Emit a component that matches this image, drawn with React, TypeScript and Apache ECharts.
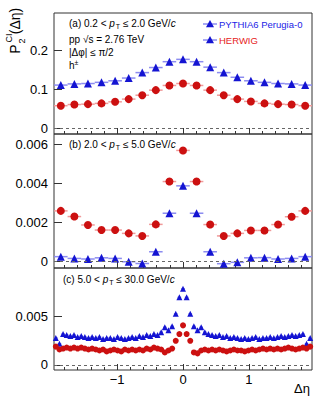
import React, { useEffect, useRef } from 'react';
import * as echarts from 'echarts';

const X_MIN = -1.96;
const X_MAX = 1.96;

// Panel (a) 0.2 < pT <= 2.0 GeV/c, 19 bins
const pythiaA = [0.111, 0.114, 0.115, 0.118, 0.122, 0.129, 0.143, 0.156, 0.171, 0.177, 0.171, 0.157, 0.143, 0.131, 0.122, 0.118, 0.115, 0.114, 0.111];
const herwigA = [0.058, 0.061, 0.062, 0.064, 0.068, 0.075, 0.085, 0.098, 0.110, 0.115, 0.110, 0.098, 0.085, 0.075, 0.069, 0.064, 0.062, 0.061, 0.058];

// Panel (b) 2.0 < pT <= 5.0 GeV/c, 19 bins
const pythiaB = [0.00026, 0.00017, 0.00014, 0.0002, 0.00017, 0.0, -0.00009, 0.00051, 0.00248, 0.00388, 0.00248, 0.00051, -0.0001, -0.00003, 0.0002, 0.00021, 0.00014, 0.00017, 0.00026];
const herwigB = [0.0026, 0.00231, 0.00188, 0.00162, 0.00162, 0.00145, 0.00132, 0.00191, 0.0041, 0.00569, 0.0041, 0.0019, 0.00132, 0.00145, 0.0016, 0.0016, 0.0019, 0.0023, 0.0026];

// Panel (c) 5.0 < pT <= 30.0 GeV/c, 71 bins
const pythiaC = [
  0.0028, 0.0022, 0.0032, 0.0031, 0.0030, 0.0031, 0.0029, 0.0030, 0.0029, 0.0028,
  0.0029, 0.0028, 0.0029, 0.0027, 0.0028, 0.0028, 0.0027, 0.0029, 0.0028, 0.0027,
  0.0028, 0.0029, 0.0028, 0.0030, 0.0029, 0.0031, 0.0030, 0.0032, 0.0031, 0.0034,
  0.0039, 0.0036, 0.0040, 0.0053, 0.0070,
  0.0079,
  0.0070, 0.0053, 0.0040, 0.0036, 0.0039,
  0.0034, 0.0032, 0.0031, 0.0030, 0.0031, 0.0029, 0.0030, 0.0028, 0.0029, 0.0028,
  0.0027, 0.0028, 0.0027, 0.0028, 0.0029, 0.0027, 0.0028, 0.0028, 0.0029, 0.0028,
  0.0029, 0.0030, 0.0029, 0.0030, 0.0031, 0.0030, 0.0031, 0.0032, 0.0022, 0.0028,
];
const herwigC = [
  0.0019, 0.0016, 0.0017, 0.0018, 0.0017, 0.0018, 0.0017, 0.0018, 0.0017, 0.0016,
  0.0017, 0.0016, 0.0015, 0.0016, 0.0014, 0.0015, 0.0016, 0.0015, 0.0014, 0.0016,
  0.0015, 0.0016, 0.0015, 0.0016, 0.0015, 0.0017, 0.0016, 0.0018, 0.0017, 0.0016,
  0.0013, 0.0015, 0.0017, 0.0025, 0.0032,
  0.0041,
  0.0032, 0.0025, 0.0013, 0.0012, 0.0015,
  0.0016, 0.0015, 0.0016, 0.0015, 0.0016, 0.0015, 0.0014, 0.0015, 0.0016, 0.0015,
  0.0015, 0.0014, 0.0015, 0.0016, 0.0015, 0.0016, 0.0017, 0.0016, 0.0017, 0.0016,
  0.0017, 0.0016, 0.0017, 0.0018, 0.0017, 0.0016, 0.0017, 0.0018, 0.0017, 0.0019,
];

const yRanges = [
  [-0.0146, 0.296],
  [-0.00032, 0.00653],
  [-0.00052, 0.01004],
];
const ySplits = [3, 3, 2];
const yTicks = [
  [0, 0.1, 0.2],
  [0, 0.002, 0.004, 0.006],
  [0, 0.005],
];
const xTicks = [-1, 0, 1];

const BLUE = '#1414d2';
const RED = '#cc1010';
const BLUE_ERR = '#8c8cf0';
const RED_ERR = '#f09a9a';
const FONT = 'Liberation Sans';

const GRIDS = [
  { left: 54, top: 13, width: 258, height: 121 },
  { left: 54, top: 134, width: 258, height: 134 },
  { left: 54, top: 268, width: 258, height: 102 },
];

function binned(vals: number[]) {
  const n = vals.length;
  const w = (X_MAX - X_MIN) / n;
  return vals.map((v, i) => [X_MIN + (i + 0.5) * w, v, w]);
}

function errSeries(vals: number[], idx: number, color: string) {
  return {
    type: 'custom',
    xAxisIndex: idx,
    yAxisIndex: idx,
    data: binned(vals),
    encode: { x: 0, y: 1 },
    silent: true,
    renderItem: (params: any, api: any) => {
      const x = api.value(0);
      const y = api.value(1);
      const w = api.value(2);
      const p1 = api.coord([x - w / 2, y]);
      const p2 = api.coord([x + w / 2, y]);
      return {
        type: 'line',
        shape: { x1: p1[0], y1: p1[1], x2: p2[0], y2: p2[1] },
        style: { stroke: color, lineWidth: 1.5 },
      };
    },
  };
}

function markerSeries(vals: number[], idx: number, symbol: string, color: string, size: number, withZero: boolean) {
  const s: any = {
    type: 'scatter',
    xAxisIndex: idx,
    yAxisIndex: idx,
    symbol,
    symbolSize: size,
    itemStyle: { color, opacity: 1 },
    data: binned(vals).map((d) => [d[0], d[1]]),
    silent: true,
  };
  if (withZero) {
    s.markLine = {
      silent: true,
      symbol: 'none',
      label: { show: false },
      lineStyle: { color: '#666', type: [3, 3], width: 1 },
      data: [{ yAxis: 0 }],
      animation: false,
    };
  }
  return s;
}

const minusFmt = (v: number) => {
  if (Math.abs(v) < 1e-12) return '0';
  return v < 0 ? '\u2212' + String(Math.abs(v)) : String(v);
};

function annotation(tag: string, lo: string, hi: string, x: number, y: number) {
  return {
    type: 'text',
    x,
    y,
    style: {
      text: `(${tag}) ${lo} < {i|p}{s|T} ≤ ${hi} GeV/{i|c}`,
      font: `10px ${FONT}`,
      fill: '#000',
      verticalAlign: 'middle',
      rich: {
        i: { fontStyle: 'italic', fontSize: 10, fontFamily: FONT },
        s: { fontSize: 7, fontFamily: FONT, padding: [6, 0, 0, 1] },
      },
    },
  };
}

function tri(cx: number, cy: number, r: number, color: string) {
  return {
    type: 'polygon',
    shape: { points: [[cx, cy - r], [cx - r, cy + r * 0.8], [cx + r, cy + r * 0.8]] },
    style: { fill: color },
  };
}

export default function App() {
  const ref = useRef<HTMLDivElement>(null);
  useEffect(() => {
    if (!ref.current) return;
    const chart = echarts.init(ref.current, null, { renderer: 'svg' });
    const xAxes = GRIDS.map((_, i) => ({
      gridIndex: i,
      type: 'value',
      position: 'bottom',
      min: X_MIN,
      max: X_MAX,
      splitNumber: 4,
      axisLine: { show: false, onZero: false },
      axisTick: { show: true, inside: true, length: 6, customValues: xTicks, lineStyle: { color: '#333', width: 1 } },
      minorTick: { show: true, splitNumber: 5, length: 3, lineStyle: { color: '#333', width: 1 } },
      splitLine: { show: false },
      axisLabel: {
        show: i === 2,
        customValues: xTicks,
        fontSize: 13,
        fontFamily: FONT,
        color: '#000',
        margin: 3,
        formatter: minusFmt,
      },
    }));
    const yAxes = GRIDS.map((_, i) => ({
      gridIndex: i,
      type: 'value',
      position: 'left',
      min: yRanges[i][0],
      max: yRanges[i][1],
      splitNumber: ySplits[i],
      axisLine: { show: false, onZero: false },
      axisTick: { show: true, inside: true, length: 8, customValues: yTicks[i], lineStyle: { color: '#333', width: 1 } },
      splitLine: { show: false },
      axisLabel: {
        customValues: yTicks[i],
        fontSize: 13,
        fontFamily: FONT,
        color: '#000',
        margin: 6,
        formatter: minusFmt,
      },
    }));
    const series: any[] = [
      errSeries(pythiaA, 0, BLUE_ERR),
      errSeries(herwigA, 0, RED_ERR),
      markerSeries(pythiaA, 0, 'triangle', BLUE, 8, true),
      markerSeries(herwigA, 0, 'circle', RED, 8, false),
      errSeries(pythiaB, 1, BLUE_ERR),
      errSeries(herwigB, 1, RED_ERR),
      markerSeries(pythiaB, 1, 'triangle', BLUE, 8, true),
      markerSeries(herwigB, 1, 'circle', RED, 8, false),
      errSeries(pythiaC, 2, BLUE_ERR),
      errSeries(herwigC, 2, RED_ERR),
      markerSeries(pythiaC, 2, 'triangle', BLUE, 6, true),
      markerSeries(herwigC, 2, 'circle', RED, 6, false),
    ];
    const graphic: any[] = [
      annotation('a', '0.2', '2.0', 69, 23),
      { type: 'text', x: 69, y: 39, style: { text: 'pp √s = 2.76 TeV', font: `10px ${FONT}`, fill: '#000', verticalAlign: 'middle' } },
      { type: 'text', x: 69, y: 52, style: { text: '|Δφ| ≤ π/2', font: `10px ${FONT}`, fill: '#000', verticalAlign: 'middle' } },
      {
        type: 'text', x: 69, y: 65,
        style: {
          text: 'h{s|±}', font: `10px ${FONT}`, fill: '#000', verticalAlign: 'middle',
          rich: { s: { fontSize: 7, fontFamily: FONT, padding: [0, 0, 6, 0] } },
        },
      },
      annotation('b', '2.0', '5.0', 69, 144),
      annotation('c', '5.0', '30.0', 63, 279),
      // legend
      { type: 'line', shape: { x1: 203, y1: 24, x2: 217, y2: 24 }, style: { stroke: BLUE_ERR, lineWidth: 1.5 } },
      tri(210, 24, 4, BLUE),
      { type: 'text', x: 219, y: 24, style: { text: 'PYTHIA6 Perugia-0', font: `9.5px ${FONT}`, fill: '#2222e6', verticalAlign: 'middle' } },
      { type: 'line', shape: { x1: 203, y1: 40, x2: 217, y2: 40 }, style: { stroke: BLUE_ERR, lineWidth: 1.5 } },
      tri(210, 40, 4, BLUE),
      { type: 'text', x: 219, y: 40, style: { text: 'HERWIG', font: `9.5px ${FONT}`, fill: '#e62222', verticalAlign: 'middle' } },
      // y title
      { type: 'text', x: 15, y: 49, rotation: Math.PI / 2, style: { text: 'P', font: `14px ${FONT}`, fill: '#000', align: 'center', verticalAlign: 'middle' } },
      { type: 'text', x: 22, y: 41, rotation: Math.PI / 2, style: { text: '2', font: `9px ${FONT}`, fill: '#000', align: 'center', verticalAlign: 'middle' } },
      { type: 'text', x: 9, y: 38, rotation: Math.PI / 2, style: { text: 'CI', font: `9px ${FONT}`, fill: '#000', align: 'center', verticalAlign: 'middle' } },
      { type: 'text', x: 15, y: 21, rotation: Math.PI / 2, style: { text: '(Δη)', font: `14px ${FONT}`, fill: '#000', align: 'center', verticalAlign: 'middle' } },
      // x title
      { type: 'text', x: 310, y: 388, style: { text: 'Δη', font: `13px ${FONT}`, fill: '#000', align: 'right', verticalAlign: 'middle' } },
    ];
    chart.setOption({
      animation: false,
      grid: GRIDS.map((g) => ({ ...g, show: true, borderColor: '#333', borderWidth: 1, backgroundColor: 'transparent' })),
      xAxis: xAxes,
      yAxis: yAxes,
      series,
      graphic,
    });
    return () => chart.dispose();
  }, []);
  return <div ref={ref} style={{ position: 'absolute', left: 0, top: 0, width: 315, height: 404 }} />;
}
